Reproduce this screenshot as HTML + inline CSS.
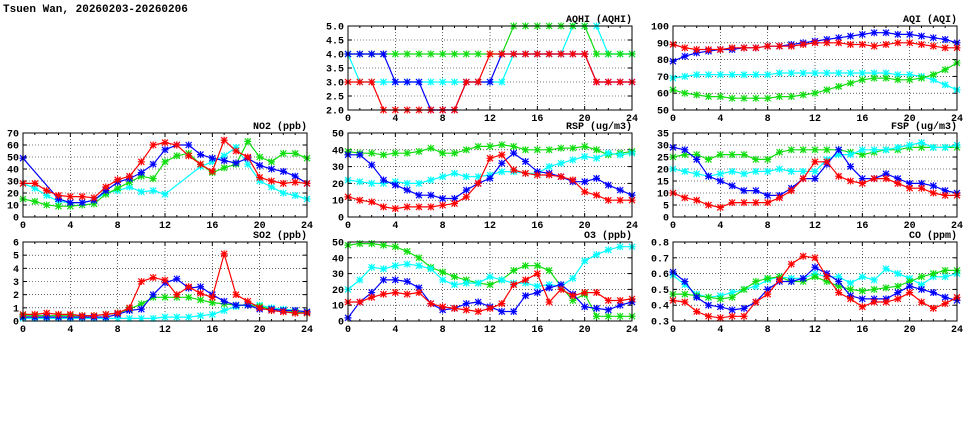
<!DOCTYPE html>
<html><head><meta charset="utf-8"><style>
html,body{margin:0;padding:0;background:#fff;}
svg{display:block;font-family:"Liberation Mono",monospace;}
</style></head><body>
<svg id="s" width="975" height="447" xmlns="http://www.w3.org/2000/svg">
<text x="3" y="12" font-size="11" font-weight="bold" font-family="Liberation Mono, monospace">Tsuen Wan, 20260203-20260206</text>
</svg>
<script>
const N=null;
const C={b:'#0000ff',r:'#ff0000',g:'#11dd11',c:'#00ffff'};
const panels=[
{t:'AQHI (AQHI)',x0:348,x1:632,y0:26,y1:110,min:2,max:5,step:.5,dec:1,order:['c','g','b','r'],d:{
b:[4,4,4,4,3,3,3,2,2,2,3,3,3,4,4,4,4,4,4,4,4,3,3,3,3],
r:[3,3,3,2,2,2,2,2,2,2,3,3,4,4,4,4,4,4,4,4,4,3,3,3,3],
g:[4,4,4,4,4,4,4,4,4,4,4,4,4,4,5,5,5,5,5,5,5,4,4,4,4],
c:[4,3,3,3,3,3,3,3,3,3,3,3,3,3,4,4,4,4,4,5,5,5,4,4,4]}},
{t:'AQI (AQI)',x0:673,x1:957,y0:26,y1:110,min:50,max:100,step:10,dec:0,order:['c','g','b','r'],d:{
b:[79,82,84,85,86,86,87,87,88,88,89,90,91,92,93,94,95,96,96,95,95,94,93,92,90],
r:[89,87,86,86,86,87,87,87,88,88,88,89,90,90,90,89,89,88,89,90,90,89,88,87,87],
c:[69,70,71,71,71,71,71,71,71,72,72,72,72,72,72,72,72,72,72,71,71,70,68,65,62],
g:[62,60,59,58,58,57,57,57,57,58,58,59,60,62,64,66,68,69,69,68,68,69,71,74,78]}},
{t:'NO2 (ppb)',x0:23,x1:307,y0:133,y1:217,min:0,max:70,step:10,dec:0,order:['c','g','b','r'],d:{
r:[28,28,22,18,17,17,16,25,31,34,46,60,62,60,51,44,38,64,55,50,33,30,28,29,28],
b:[49,N,N,15,12,12,14,22,29,32,37,44,56,60,60,52,49,47,45,49,43,40,38,34,28],
g:[15,13,10,9,9,10,11,19,24,29,34,32,46,51,53,44,37,41,44,63,50,46,53,53,49],
c:[28,24,18,13,12,12,14,20,22,25,21,22,19,N,N,42,46,51,58,44,30,25,20,18,15]}},
{t:'RSP (ug/m3)',x0:348,x1:632,y0:133,y1:217,min:0,max:50,step:10,dec:0,order:['g','c','b','r'],d:{
g:[39,38,38,37,38,38,39,41,38,38,40,42,42,43,42,40,40,40,41,41,42,40,37,38,39],
c:[22,21,20,20,21,20,20,22,24,26,24,24,25,27,27,26,26,30,32,34,36,35,38,37,38],
b:[37,37,31,22,19,16,13,13,11,11,16,20,23,32,38,33,27,26,24,21,21,23,19,16,13],
r:[12,10,9,6,5,6,6,6,7,8,12,20,35,37,28,26,25,25,24,22,15,13,10,10,10]}},
{t:'FSP (ug/m3)',x0:673,x1:957,y0:133,y1:217,min:0,max:35,step:5,dec:0,order:['g','c','b','r'],d:{
b:[29,28,24,17,15,13,11,11,9,9,12,16,16,22,28,21,16,16,18,16,14,14,13,11,10],
g:[25,26,26,24,26,26,26,24,24,27,28,28,28,28,28,27,26,27,28,28,29,29,29,29,29],
c:[20,19,18,17,18,19,18,19,19,20,19,19,19,24,26,26,28,28,28,29,30,31,29,29,30],
r:[10,8,7,5,4,6,6,6,6,8,11,16,23,23,17,15,14,16,16,14,12,12,10,9,9]}},
{t:'SO2 (ppb)',x0:23,x1:307,y0:242,y1:321,min:0,max:6,step:1,dec:0,order:['c','g','b','r'],d:{
r:[.5,.5,.6,.5,.5,.4,.4,.5,.6,1,3,3.3,3.1,2,2.6,2.1,1.8,5.1,2,1.5,1,.8,.7,.6,.6],
b:[.3,.3,.3,.3,.3,.3,.3,.3,.5,.8,.9,2,2.9,3.2,2.5,2.6,2,1.5,1.2,1.2,.9,.9,.8,.8,.7],
g:[.4,.4,.4,.4,.4,.4,.4,.5,.6,.9,1.3,1.8,1.8,1.8,1.8,1.6,1.4,1.3,1.2,1.2,1.1,.9,.8,.7,.6],
c:[.2,.2,.2,.2,.2,.2,.2,.2,.2,.2,.2,.2,.3,.3,.3,.4,.5,.8,1.1,1.3,1.2,1,.9,.8,.7]}},
{t:'O3 (ppb)',x0:348,x1:632,y0:242,y1:321,min:0,max:50,step:10,dec:0,order:['g','c','b','r'],d:{
g:[48,49,49,48,47,44,40,34,31,28,26,24,23,26,32,35,35,32,22,13,17,3,3,3,3],
c:[20,26,34,33,35,36,35,33,26,23,24,24,28,26,24,24,22,23,22,27,38,42,45,47,47],
b:[2,12,18,26,26,25,21,11,7,8,11,12,9,6,6,16,18,21,23,17,9,8,7,10,12],
r:[12,12,15,17,18,17,18,11,9,8,7,6,8,11,23,26,30,12,20,16,18,18,13,13,14]}},
{t:'CO (ppm)',x0:673,x1:957,y0:242,y1:321,min:.3,max:.8,step:.1,dec:1,order:['c','g','b','r'],d:{
b:[.61,.55,.45,.4,.39,.37,.38,.42,.5,.55,.55,.57,.64,.6,.55,.46,.44,.44,.44,.48,.52,.5,.48,.45,.43],
r:[.43,.42,.36,.33,.32,.33,.33,.42,.47,.56,.66,.71,.7,.58,.48,.44,.39,.42,.42,.44,.48,.42,.38,.41,.45],
c:[.59,.53,.47,.45,.46,.48,.5,.52,.56,.58,.57,.57,.6,.58,.58,.54,.58,.56,.63,.6,.57,.53,.58,.58,.6],
g:[.47,.47,.46,.45,.44,.45,.5,.55,.57,.58,.55,.55,.58,.55,.52,.5,.49,.5,.51,.52,.55,.58,.6,.62,.62]}}
];
let h='';
for(const p of panels){
 const X=i=>p.x0+(p.x1-p.x0)*i/24, Y=v=>p.y1-(p.y1-p.y0)*(v-p.min)/(p.max-p.min);
 h+=`<text x="${p.x1}" y="${p.y0-4}" font-size="10" font-weight="bold" text-anchor="end">${p.t}</text>`;
 const n=Math.round((p.max-p.min)/p.step);
 for(let k=0;k<=n;k++){const v=p.min+k*p.step,y=Y(v);
  if(k>0&&k<n)h+=`<line x1="${p.x0}" x2="${p.x1}" y1="${y}" y2="${y}" stroke="#000" stroke-width=".6" stroke-dasharray="1,2"/>`;
  h+=`<line x1="${p.x0}" x2="${p.x0+4}" y1="${y}" y2="${y}" stroke="#000"/><line x1="${p.x1-4}" x2="${p.x1}" y1="${y}" y2="${y}" stroke="#000"/>`;
  h+=`<text x="${p.x0-4}" y="${y+3.5}" font-size="10" font-weight="bold" text-anchor="end">${v.toFixed(p.dec)}</text>`;}
 for(let i=0;i<=24;i++){const x=X(i);
  if(i%4==0){if(i>0&&i<24)h+=`<line x1="${x}" x2="${x}" y1="${p.y0}" y2="${p.y1}" stroke="#000" stroke-width=".6" stroke-dasharray="1,2"/>`;
   h+=`<text x="${x}" y="${p.y1+11}" font-size="10" font-weight="bold" text-anchor="middle">${i}</text>`;}
  const l=i%4==0?4:2;
  h+=`<line x1="${x}" x2="${x}" y1="${p.y1}" y2="${p.y1-l}" stroke="#000"/><line x1="${x}" x2="${x}" y1="${p.y0}" y2="${p.y0+l}" stroke="#000"/>`;}
 for(const s of p.order){const d=p.d[s];let path='';let pen=false;let mk='';
  d.forEach((v,i)=>{if(v===N){return;}let x=X(i),y=Y(v);y=Math.max(p.y0,Math.min(p.y1,y));
   path+=(pen?'L':'M')+x.toFixed(1)+' '+y.toFixed(1);pen=true;
   mk+=`M${x-3} ${y-3}L${x+3} ${y+3}M${x-3} ${y+3}L${x+3} ${y-3}M${x-3.5} ${y}L${x+3.5} ${y}M${x} ${y-3.5}L${x} ${y+3.5}`;});
  h+=`<path d="${path}" fill="none" stroke="${C[s]}" stroke-width="1.2"/><path d="${mk}" stroke="${C[s]}" stroke-width="1.2"/>`;}
 h+=`<rect x="${p.x0}" y="${p.y0}" width="${p.x1-p.x0}" height="${p.y1-p.y0}" fill="none" stroke="#000" stroke-width="1"/>`;
}
document.getElementById('s').insertAdjacentHTML('beforeend',h);
</script>
</body></html>
